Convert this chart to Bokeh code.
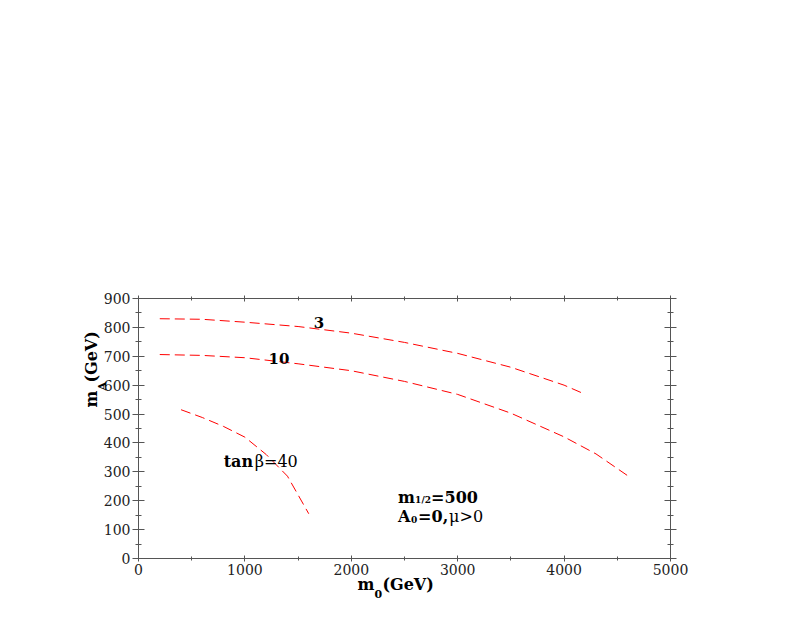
from bokeh.plotting import figure
from bokeh.models import Range1d, LinearAxis, FixedTicker, Label, Title, CustomJSTickFormatter
from bokeh.embed import file_html
from bokeh.resources import INLINE

# ---- data ----
m0_tb3 = [200, 600, 1000, 1500, 2000, 2500, 3000, 3500, 4000, 4200]
mA_tb3 = [830, 828, 818, 803, 780, 748, 710, 662, 600, 568]

m0_tb10 = [200, 600, 1000, 1500, 2000, 2500, 3000, 3500, 4000, 4300, 4600]
mA_tb10 = [706, 703, 695, 674, 650, 613, 568, 503, 421, 362, 286]

m0_tb40 = [400, 600, 800, 1000, 1200, 1400, 1600]
mA_tb40 = [515, 488, 457, 420, 360, 285, 155]

x_major = [0, 1000, 2000, 3000, 4000, 5000]
x_minor = [0, 500, 1000, 1500, 2000, 2500, 3000, 3500, 4000, 4500, 5000]
y_major = [0, 100, 200, 300, 400, 500, 600, 700, 800, 900]
y_minor = [0, 50, 100, 150, 200, 250, 300, 350, 400, 450, 500, 550, 600, 650, 700, 750, 800, 850, 900]

FONT = "DejaVu Serif"
AX = "#555555"

p = figure(width=801, height=621, x_range=Range1d(0, 5000), y_range=Range1d(0, 900),
           output_backend="svg", toolbar_location=None,
           min_border_left=138, min_border_right=131, min_border_top=298, min_border_bottom=63)
p.grid.visible = False
p.outline_line_color = AX
p.background_fill_color = "white"
p.border_fill_color = "white"

xt = FixedTicker(ticks=x_major, minor_ticks=x_minor)
yt = FixedTicker(ticks=y_major, minor_ticks=y_minor)

def style_axis(ax, ticker, tin, tout, mtin, mtout, labels=True):
    ax.ticker = ticker
    ax.axis_line_color = AX
    ax.major_tick_line_color = AX
    ax.minor_tick_line_color = AX
    ax.major_tick_in = tin
    ax.major_tick_out = tout
    ax.minor_tick_in = mtin
    ax.minor_tick_out = mtout
    ax.major_label_text_font = FONT
    ax.major_label_text_font_size = "14px"
    ax.major_label_text_color = "#222222"
    ax.major_label_standoff = 2
    if not labels:
        ax.formatter = CustomJSTickFormatter(code="return ''")

style_axis(p.xaxis[0], xt, 3, 3, 2, 2)
style_axis(p.yaxis[0], yt, 6, 6, 3, 3)
top = LinearAxis()
style_axis(top, xt, 3, 3, 2, 2, labels=False)
p.add_layout(top, "above")
right = LinearAxis()
style_axis(right, yt, 6, 6, 3, 3, labels=False)
p.add_layout(right, "right")

dash = "10 5"
p.line(m0_tb3, mA_tb3, line_color="red", line_width=1, line_dash=dash)
p.line(m0_tb10, mA_tb10, line_color="red", line_width=1, line_dash=dash)
p.line(m0_tb40, mA_tb40, line_color="red", line_width=1, line_dash=dash)

def piece(x, y, text, size, bold=True, dx=0, dy=0, align="left", baseline="alphabetic"):
    p.add_layout(Label(x=x, y=y, text=text, x_offset=dx, y_offset=dy,
                       text_font=FONT, text_font_size=f"{size}px",
                       text_font_style="bold" if bold else "normal",
                       text_align=align, text_baseline=baseline, text_color="black"))

# curve labels
piece(1696, 818, "3", 15, True, align="center", baseline="middle")
piece(1320, 694, "10", 15, True, align="center", baseline="middle")
piece(801, 337, "tan", 16, True)
piece(801, 337, "\u03b2=40", 16, False, dx=31)

# parameter box
piece(2440, 212, "m", 16, True)
piece(2440, 212, "1/2", 9, True, dx=17, dy=-3)
piece(2440, 212, "=500", 16, True, dx=33)
piece(2440, 146, "A", 16, True)
piece(2440, 146, "0", 9, True, dx=13, dy=-3)
piece(2440, 146, "=0,", 16, True, dx=20)
piece(2440, 146, "\u03bc>0", 16, False, dx=51)

# axis titles built from side-panel Titles (main text + subscript)
def side_title(place, text, size, offset, standoff):
    p.add_layout(Title(text=text, align="left", vertical_align="bottom", offset=offset,
                       standoff=standoff, text_font=FONT, text_font_size=f"{size}px",
                       text_font_style="bold", text_color="black"), place)

# x: m_0(GeV)
side_title("below", "m\u2002(GeV)", 16, 219, -9)
side_title("below", "0", 11, 236, -17)
# y: m_A(GeV)
side_title("left", "A", 11, 168, -16)
side_title("left", "m\u2002(GeV)", 16, 151, 0)

open("out.html", "w").write(file_html(p, INLINE))
